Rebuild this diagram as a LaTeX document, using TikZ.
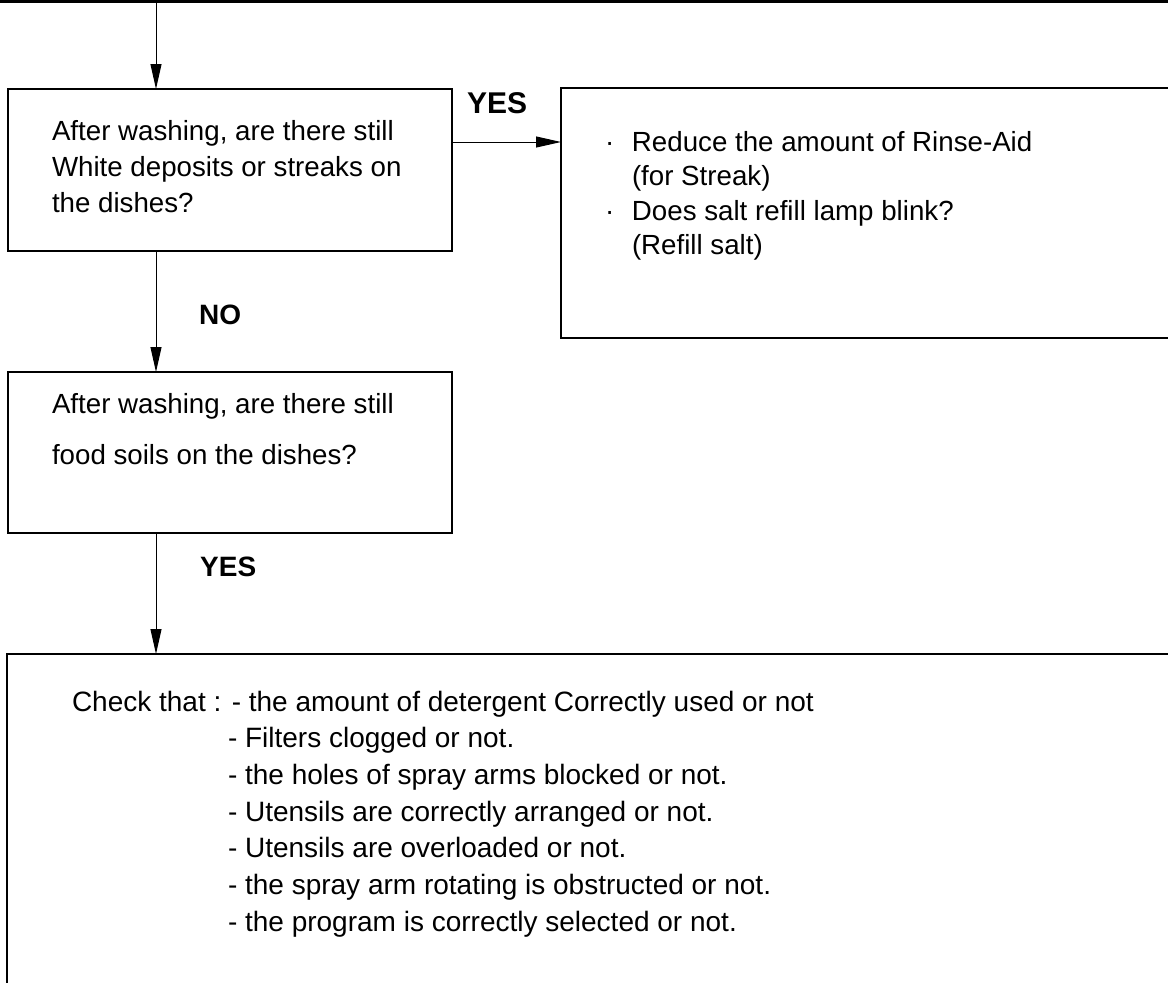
\documentclass[tikz,border=0pt]{standalone}
\usepackage{fontspec}
\setmainfont{Liberation Sans}
\usetikzlibrary{arrows.meta,calc}
\tikzset{
  box/.style={draw, line width=1.4pt, inner sep=0pt, outer sep=0pt, anchor=north west},
  conn/.style={line width=1pt, -{Triangle[length=25pt,width=11pt]}},
  txt/.style={inner sep=0pt, outer sep=0pt, anchor=base west},
  lbl/.style={inner sep=0pt, anchor=west, font=\fontsize{28pt}{30pt}\selectfont\bfseries},
}
\begin{document}
\begin{tikzpicture}[x=1pt,y=-1pt]
\useasboundingbox (0,0) rectangle (1168,983);
\clip (0,0) rectangle (1168,983);

% top rule
\coordinate (tl) at (0,1.5);
\coordinate (tr) at (1168,1.5);
\coordinate (top) at (156,1.5);
\draw[line width=3pt] (tl) -- (tr);

% boxes
\node[box, minimum width=444pt, minimum height=162pt] (b1) at (8,89) {};
\node[box, minimum width=620pt, minimum height=250pt] (b2) at (561,88) {};
\node[box, minimum width=444pt, minimum height=161pt] (b3) at (8,372) {};
\node[box, minimum width=1175pt, minimum height=340pt] (b4) at (7,654) {};

% texts
\node[txt, font=\fontsize{27.7pt}{36pt}\selectfont] (t1) at (52,140)
  {\begin{tabular}[t]{@{}l@{}}After washing, are there still\\ White deposits or streaks on\\ the dishes?\end{tabular}};
\node[txt, font=\fontsize{27.7pt}{34.5pt}\selectfont] (t2) at (605,151)
  {\begin{tabular}[t]{@{}l@{}l@{}}\makebox[27pt][l]{·} & Reduce the amount of Rinse-Aid\\
   & (for Streak)\\
   \makebox[27pt][l]{·} & Does salt refill lamp blink?\\
   & (Refill salt)\end{tabular}};
\node[txt, font=\fontsize{27.7pt}{51pt}\selectfont] (t3) at (52,413)
  {\begin{tabular}[t]{@{}l@{}}After washing, are there still\\ food soils on the dishes?\end{tabular}};
\node[txt, font=\fontsize{28pt}{36.7pt}\selectfont] (t4a) at (72,711)
  {Check that : - the amount of detergent Correctly used or not};
\node[txt, font=\fontsize{28pt}{36.7pt}\selectfont] (t4b) at (228,747.7)
  {\begin{tabular}[t]{@{}l@{}}- Filters clogged or not.\\
   - the holes of spray arms blocked or not.\\
   - Utensils are correctly arranged or not.\\
   - Utensils are overloaded or not.\\
   - the spray arm rotating is obstructed or not.\\
   - the program is correctly selected or not.\end{tabular}};

% connectors
\coordinate (y1) at (0,142);
\draw[conn] (top) -- (top |- b1.north);
\draw[conn] (b1.east |- y1) -- (b2.west |- y1);
\draw[conn] (b1.south -| top) -- (b3.north -| top);
\draw[conn] (b3.south -| top) -- (b4.north -| top);

% labels
\node[lbl, font=\fontsize{30pt}{32pt}\selectfont\bfseries] (yes1) at (467,103) {YES};
\node[lbl] (no) at (199,315) {NO};
\node[lbl] (yes2) at (200,567) {YES};
\end{tikzpicture}
\end{document}
